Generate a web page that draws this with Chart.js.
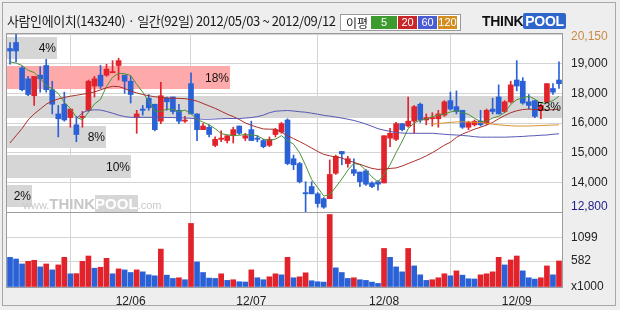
<!DOCTYPE html>
<html>
<head>
<meta charset="utf-8">
<script src="https://cdn.jsdelivr.net/npm/chart.js@4.4.0/dist/chart.umd.min.js"></script>
<style>
body { margin: 0; background: #fff; }
#wrap { position: relative; width: 620px; height: 310px; background: #eeeeee; overflow: hidden; }
#frame { position: absolute; left: 2px; top: 2px; width: 614px; height: 304px; border: 1px solid #a8a8a8; box-sizing: border-box; }
#c { position: absolute; left: 0; top: 0; }
#title { position: absolute; left: 7px; top: 14px; font: 13px "Noto Sans CJK KR", sans-serif; line-height: 14px; color: #1a1a1a; letter-spacing: -0.4px; white-space: nowrap; }
#legend { position: absolute; left: 340px; top: 14px; width: 119px; height: 15px; background: #fff; border: 1px solid #9a9a9a; font: 11px "Liberation Sans", sans-serif; line-height: 13px; white-space: nowrap; }
#legend span { position: absolute; top: 1px; height: 13px; text-align: center; color: #fff; }
#legend .lb { left: 3px; width: 26px; color: #222; font: 12px "Noto Sans CJK KR", sans-serif; line-height: 13px; }
#logo { position: absolute; left: 482px; top: 13px; height: 16px; font: bold 14px "Liberation Sans", sans-serif; line-height: 16px; white-space: nowrap; letter-spacing: -0.3px; }
#logo .t { color: #111; }
#logo .p { color: #fff; background: #2f66cc; padding: 0 2px; border-radius: 2px; }
#wm { position: absolute; left: 23px; top: 195px; font: 11px "Liberation Sans", sans-serif; color: #cacaca; white-space: nowrap; line-height: 14px; }
#wm b { font: bold 15px "Liberation Sans", sans-serif; color: #c6c6c6; }
#wm .p { color: #fff; background: #d6d6d6; }
</style>
</head>
<body>
<div id="wrap">
  <div id="frame"></div>
  <canvas id="c" width="620" height="310"></canvas>
  <div id="title">사람인에이치(143240) · 일간(92일) 2012/05/03 ~ 2012/09/12</div>
  <div id="legend">
    <span class="lb">이평</span>
    <span style="left:30px;width:26px;background:#3d9a2e">5</span>
    <span style="left:57px;width:19px;background:#c9262a">20</span>
    <span style="left:77px;width:19px;background:#4a5cd2">60</span>
    <span style="left:97px;width:19px;background:#d48d1f">120</span>
  </div>
  <div id="logo"><span class="t">THINK</span><span class="p">POOL</span></div>
  <div id="wm">www.<b>THINK</b><b class="p">POOL</b>.com</div>
</div>
<script>
// trading days 2012/05/03 ~ 2012/09/12
const dates = [
  "05/03","05/04","05/07","05/08","05/09","05/10","05/11","05/14","05/15","05/16",
  "05/17","05/18","05/21","05/22","05/23","05/24","05/25","05/29","05/30","05/31",
  "06/01","06/04","06/05","06/07","06/08","06/11","06/12","06/13","06/14","06/15",
  "06/18","06/19","06/20","06/21","06/22","06/25","06/26","06/27","06/28","06/29",
  "07/02","07/03","07/04","07/05","07/06","07/09","07/10","07/11","07/12","07/13",
  "07/16","07/17","07/18","07/19","07/20","07/23","07/24","07/25","07/26","07/27",
  "07/30","07/31","08/01","08/02","08/03","08/06","08/07","08/08","08/09","08/10",
  "08/13","08/14","08/16","08/17","08/20","08/21","08/22","08/23","08/24","08/27",
  "08/28","08/29","08/30","08/31","09/03","09/04","09/05","09/06","09/07","09/10",
  "09/11","09/12"
];

const opens = [19550,19800,18750,18300,17600,18450,18850,17850,16850,17250,
  16700,16400,16700,17000,18000,18450,18450,18550,18850,18450,
  18200,16700,17050,17500,17250,16550,17500,17550,17000,16550,
  18100,16850,16200,16300,15550,15800,15750,15950,16350,15850,
  16200,15850,15750,15550,16000,16100,16600,15000,14800,13600,
  13850,13550,13350,13350,14400,15300,14800,14550,14450,14500,
  14000,14050,14000,15850,15800,16450,16350,16550,17250,16600,
  16650,16650,16800,17400,17150,17000,16300,16400,16550,16450,
  17050,17550,16950,17350,18250,18200,17350,17400,17000,17350,
  17900,18250];
const highs = [19800,20150,18800,18400,18400,18800,19100,18200,17200,17750,
  17050,16750,16950,18250,18400,18850,18900,19050,19150,18450,
  18400,17000,17200,17650,17250,18150,17550,17550,17250,16750,
  18550,16850,16450,16400,15900,16150,15950,16300,16350,16050,
  16550,15950,15800,15900,16250,16500,16650,15150,14850,14050,
  14050,13600,13400,14950,15150,15300,15100,15000,14450,14550,
  14050,14100,15950,16250,16500,16450,17550,17200,17300,16850,
  16900,17000,17400,17750,17800,17000,16550,16600,17000,17050,
  17500,18050,17400,18200,19050,18350,17650,17400,17250,18100,
  18100,19000];
const lows = [18900,19000,17800,17600,17200,17750,17750,16850,15900,16550,
  16300,15700,16300,16950,17550,17900,18400,18550,18250,17700,
  17300,16050,16800,17000,16150,16450,17000,16850,16450,16500,
  16850,15750,16200,15900,15500,15700,15650,15650,16000,15750,
  15750,15700,15450,15500,15900,16050,14750,14550,14000,12800,
  13550,13000,12950,13350,14350,14750,14650,14300,13850,13900,
  13800,13700,14000,15500,15750,16150,16300,16050,16500,16400,
  16350,16300,16750,17000,16850,16250,16200,16350,16350,16400,
  16850,16850,16900,17300,17800,17250,17050,16700,16650,17300,
  17650,17900];
const closes = [19450,19450,17850,17650,18400,18300,17850,17250,16650,16600,
  17050,16000,16750,18200,18300,18000,18700,18600,19050,18200,
  17650,16850,17000,17100,16200,17600,17350,16950,16550,16600,
  16850,16200,16350,16000,15800,15850,15950,16200,16050,15950,
  15750,15800,15500,15800,16200,16450,14800,14750,14050,13550,
  13550,13150,13000,14350,15100,15200,15000,14400,14050,13950,
  13850,13950,15950,16050,16450,16200,16550,17150,16600,16700,
  16700,16850,17350,17050,16950,16300,16500,16550,16400,17000,
  16950,16850,17350,18050,18000,17300,17200,16750,17200,18100,
  17750,18100];

// volume, thousands of shares
const volumes = [665,628,517,576,599,451,517,384,495,665,
  296,300,576,695,421,443,643,296,406,384,
  325,384,340,273,251,850,266,192,207,163,
  1426,562,325,200,192,296,148,163,118,112,
  384,207,163,229,296,273,665,207,229,318,
  140,118,110,1626,429,325,192,207,163,148,
  110,80,865,665,451,340,865,473,273,148,
  163,207,296,251,362,266,185,180,273,296,
  340,665,495,606,695,362,207,177,207,473,
  273,584];

// moving averages as drawn (5 / 20 / 60 / 120)
const ma5 = [19000,18950,18850,18650,18560,18330,18010,17890,17690,17330,
  17080,16710,16610,16920,17260,17450,17990,18360,18530,18510,
  18440,18070,17750,17360,16960,16950,17050,17040,16930,17010,
  16860,16630,16510,16400,16240,16040,15990,15960,15970,16000,
  15980,15950,15810,15760,15810,15950,15750,15600,15250,14720,
  14140,13810,13460,13520,13830,14160,14530,14810,14750,14520,
  14250,14040,14350,14750,15250,15720,16240,16480,16590,16640,
  16740,16800,16840,16930,16980,16900,16830,16670,16540,16550,
  16680,16750,16910,17240,17440,17510,17580,17460,17290,17310,
  17400,17580];
const ma20 = [15650,15950,16250,16600,16850,17050,17250,17380,17470,17530,
  17580,17620,17660,17700,17760,17840,17930,17990,17980,17900,
  17790,17720,17650,17600,17560,17530,17510,17500,17490,17480,
  17440,17380,17280,17180,17080,16960,16840,16740,16620,16480,
  16380,16300,16230,16220,16220,16100,15950,15830,15710,15580,
  15440,15300,15180,15120,15070,15030,14930,14850,14770,14680,
  14600,14560,14570,14600,14620,14700,14800,14900,15000,15120,
  15250,15400,15560,15680,15880,16020,16120,16220,16300,16390,
  16500,16650,16780,16900,16980,17030,17050,17030,17010,17010,
  17030,17050];
const ma60 = [null,null,null,null,null,null,null,null,null,null,null,
  16650,16900,17000,17020,17010,16950,16880,16800,16740,16710,
  16710,16710,16710,16710,16710,16700,16700,16690,16680,16670,
  16650,16630,16630,16640,16650,16660,16660,16660,16680,16700,
  16740,16800,16900,16960,16980,16990,16970,16940,16920,16880,
  16840,16790,16760,16720,16680,16630,16580,16510,16430,16340,
  16240,16180,16130,16080,16060,16050,16050,16050,16050,16050,
  16030,16010,15990,15980,15960,15940,15910,15890,15890,15890,
  15890,15890,15900,15910,15920,15940,15950,15970,15980,16010,
  16030];
const ma120 = [null,null,null,null,null,null,null,null,null,null,
  null,null,null,null,null,null,null,null,null,null,
  null,null,null,null,null,null,null,null,null,null,
  null,null,null,null,null,null,null,null,null,null,
  null,null,null,null,null,null,null,null,null,null,
  null,null,null,null,null,null,null,null,null,null,
  null,null,null,null,null,null,null,null,null,null,
  16430,16450,16480,16500,16520,16520,16520,16510,16490,16460,
  16430,16400,16380,16360,16350,16350,16350,16360,16370,16380,
  16390,16400];

// price axis gridlines and their labels
const priceTicks = [12800,14025,15250,16475,17700,18925,20150];
const priceLabels = ["12,800","14,000","15,000","16,000","18,000","19,000","20,150"];
const volTicks = [0,582,1099];
const volLabels = ["x1000","582","1099"];
// volume by price (%), one per band between price gridlines, bottom to top
const bandPct = [2,10,8,53,18,4];

const UP = "#e3232b", DOWN = "#2a61d6";
const candleColors = opens.map((o, i) => closes[i] >= o ? UP : DOWN);
const volColors = volumes.map((v, i) => i > 0 && v > volumes[i - 1] ? UP : DOWN);
const tickFont = { family: "Liberation Sans", size: 12 };

const panelPlugin = {
  id: "panel",
  beforeDraw(chart) {
    const { ctx, chartArea: a } = chart;
    ctx.save();
    ctx.fillStyle = "#fff";
    ctx.fillRect(a.left, a.top, a.right - a.left, a.bottom - a.top);
    ctx.restore();
  },
  beforeDatasetsDraw(chart) {
    const { ctx, chartArea: a, scales } = chart;
    const y = scales.y, xp = scales.xPct;
    const last = closes[closes.length - 1];
    ctx.save();
    bandPct.forEach((p, k) => {
      const lo = priceTicks[k], hi = priceTicks[k + 1], step = hi - lo;
      const top = Math.round(y.getPixelForValue(hi - step * 0.09));
      const bot = Math.round(y.getPixelForValue(lo + step * 0.16));
      const x1 = Math.min(Math.round(xp.getPixelForValue(p)), a.right);
      ctx.fillStyle = last >= lo && last < hi ? "#ffaaaa" : "#d6d6d6";
      ctx.fillRect(a.left, top, x1 - a.left, bot - top);
    });
    ctx.restore();
  },
  afterDatasetsDraw(chart) {
    const { ctx, chartArea: a, scales } = chart;
    const y = scales.y, xp = scales.xPct;
    ctx.save();
    ctx.font = "12px 'Liberation Sans'";
    ctx.fillStyle = "#111";
    ctx.textAlign = "right";
    ctx.textBaseline = "middle";
    bandPct.forEach((p, k) => {
      const lo = priceTicks[k], hi = priceTicks[k + 1], step = hi - lo;
      const mid = y.getPixelForValue((hi - step * 0.09 + lo + step * 0.16) / 2);
      const x1 = Math.min(Math.round(xp.getPixelForValue(p)), a.right);
      ctx.fillText(p + "%", x1 - 1, mid + 1);
    });
    // panel borders
    ctx.strokeStyle = "#9c9c9c";
    ctx.lineWidth = 1;
    ctx.strokeRect(a.left - 0.5, a.top - 0.5, a.right - a.left + 1, a.bottom - a.top + 1);
    ctx.beginPath();
    ctx.moveTo(a.left, Math.round(y.bottom) + 0.5);
    ctx.lineTo(a.right, Math.round(y.bottom) + 0.5);
    ctx.stroke();
    ctx.restore();
  },
  afterDraw(chart) {
    // first / last price labels sit inside the panel edge
    const { ctx } = chart;
    const y = chart.scales.y;
    ctx.save();
    ctx.font = "12px 'Liberation Sans'";
    ctx.textAlign = "left";
    ctx.textBaseline = "middle";
    ctx.fillStyle = "#c98a45";
    ctx.fillText(priceLabels[6], y.left + 9, y.getPixelForValue(priceTicks[6]) + 3);
    ctx.fillStyle = "#1e1e8c";
    ctx.fillText(priceLabels[0], y.left + 9, y.getPixelForValue(priceTicks[0]) - 5);
    ctx.restore();
  }
};

const maLine = (data, color) => ({
  type: "line", data, borderColor: color, borderWidth: 1, pointRadius: 0,
  yAxisID: "y", order: 1, tension: 0
});

new Chart(document.getElementById("c"), {
  type: "bar",
  data: {
    labels: dates,
    datasets: [
      { data: lows.map((l, i) => [l, highs[i]]), backgroundColor: candleColors,
        barThickness: 1, grouped: false, yAxisID: "y", order: 3 },
      { data: opens.map((o, i) => [o, closes[i]]), backgroundColor: candleColors,
        barThickness: 5, minBarLength: 1, grouped: false, yAxisID: "y", order: 2 },
      { data: volumes, backgroundColor: volColors,
        barThickness: 5, grouped: false, yAxisID: "yv", order: 2 },
      maLine(ma120, "#d8952e"),
      maLine(ma60, "#5858b4"),
      maLine(ma20, "#a8302c"),
      maLine(ma5, "#4c9236")
    ]
  },
  options: {
    responsive: false,
    animation: false,
    events: [],
    layout: { padding: { left: 7, top: 34, right: 0, bottom: 0 } },
    plugins: { legend: { display: false }, tooltip: { enabled: false } },
    scales: {
      x: {
        offset: true,
        grid: { offset: true, color: "#d4d4d4", drawTicks: false },
        border: { display: false },
        afterFit: s => { s.height = 23; },
        ticks: {
          autoSkip: false, maxRotation: 0, padding: 7, color: "#222", font: tickFont,
          callback: (v, i) => i > 0 && dates[i].slice(0, 2) !== dates[i - 1].slice(0, 2)
            ? "12/" + dates[i].slice(0, 2) : null
        }
      },
      xPct: { type: "linear", axis: "x", display: false, offset: false,
        grid: { offset: false }, min: 0, max: 44.8 },
      y: {
        position: "right", stack: "main", stackWeight: 178,
        min: 12800, max: 20150,
        afterBuildTicks: s => { s.ticks = priceTicks.map(v => ({ value: v })); },
        afterFit: s => { s.width = 58; },
        grid: { color: "#d4d4d4", drawTicks: false },
        border: { display: false },
        ticks: {
          autoSkip: false, padding: 9, font: tickFont, color: "#222",
          // the edge labels are drawn by the panel plugin
          callback: (v, i) => i === 0 || i === priceTicks.length - 1 ? "" : priceLabels[i]
        }
      },
      yv: {
        position: "right", stack: "main", stackWeight: 75,
        min: 0, max: 1682,
        afterBuildTicks: s => { s.ticks = volTicks.map(v => ({ value: v })); },
        afterFit: s => { s.width = 58; },
        grid: { color: "#d4d4d4", drawTicks: false },
        border: { display: false },
        ticks: { autoSkip: false, padding: 9, font: tickFont, color: "#222", callback: (v, i) => volLabels[i] }
      }
    }
  },
  plugins: [panelPlugin]
});
</script>
</body>
</html>
